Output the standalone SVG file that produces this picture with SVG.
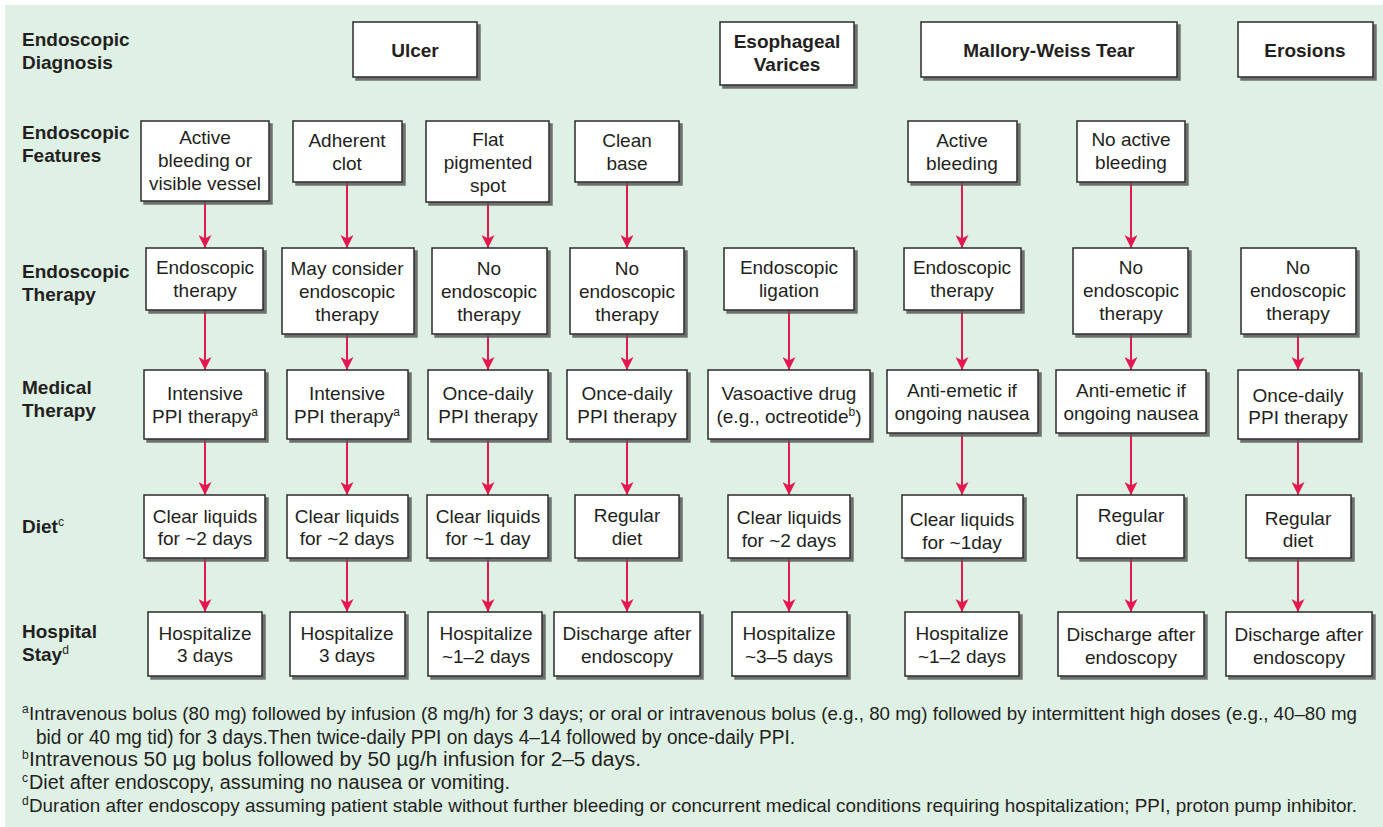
<svg xmlns="http://www.w3.org/2000/svg" width="1383" height="827" viewBox="0 0 1383 827">
  <style>
    .bg { fill: #dff0e5; }
    .box { fill: #ffffff; stroke: #2b2b2b; stroke-width: 1.5; filter: url(#shadow); }
    .t { font-family: "Liberation Sans", Arial, Helvetica, sans-serif; font-size: 19px; fill: #231f20; text-anchor: middle; }
    .tb { font-family: "Liberation Sans", Arial, Helvetica, sans-serif; font-size: 19px; font-weight: bold; fill: #231f20; text-anchor: middle; }
    .lbl { font-family: "Liberation Sans", Arial, Helvetica, sans-serif; font-size: 19px; font-weight: bold; fill: #231f20; }
    .sup { font-size: 12px; font-weight: normal; }
    .fn { font-family: "Liberation Sans", Arial, Helvetica, sans-serif; font-size: 20px; fill: #231f20; }
    .fn.long { font-size: 18.5px; }
    .fs { font-family: "Liberation Sans", Arial, Helvetica, sans-serif; font-size: 12px; fill: #231f20; }
    .arr { stroke: #e5174f; stroke-width: 2; fill: none; marker-end: url(#head); }
  </style>
  <defs>
    <filter id="shadow" x="-10%" y="-10%" width="130%" height="130%">
      <feDropShadow dx="3" dy="3" stdDeviation="0.7" flood-color="#5a5a5a" flood-opacity="0.85"/>
    </filter>
    <marker id="head" markerUnits="userSpaceOnUse" markerWidth="14" markerHeight="13" refX="13" refY="6.5" orient="auto">
      <path d="M0,0 L13,6.5 L0,13 L3.5,6.5 z" fill="#e5174f"/>
    </marker>
  </defs>

  <rect class="bg" x="5" y="5" width="1378" height="822"/>

  <!-- row labels -->
  <g id="row-labels">
    <text class="lbl" x="22" y="46">Endoscopic</text>
    <text class="lbl" x="22" y="69">Diagnosis</text>
    <text class="lbl" x="22" y="139">Endoscopic</text>
    <text class="lbl" x="22" y="162">Features</text>
    <text class="lbl" x="22" y="278">Endoscopic</text>
    <text class="lbl" x="22" y="301">Therapy</text>
    <text class="lbl" x="22" y="394">Medical</text>
    <text class="lbl" x="22" y="417">Therapy</text>
    <text class="lbl" x="22" y="533">Diet<tspan class="sup" dy="-7">c</tspan></text>
    <text class="lbl" x="22" y="638">Hospital</text>
    <text class="lbl" x="22" y="661">Stay<tspan class="sup" dy="-7">d</tspan></text>
  </g>

  <!-- connectors -->
  <g id="connectors">
    <line class="arr" x1="205" y1="201" x2="205" y2="248"/>
    <line class="arr" x1="205" y1="310" x2="205" y2="370"/>
    <line class="arr" x1="205" y1="439" x2="205" y2="495"/>
    <line class="arr" x1="205" y1="558" x2="205" y2="612"/>

    <line class="arr" x1="347" y1="182" x2="347" y2="248"/>
    <line class="arr" x1="347" y1="334" x2="347" y2="370"/>
    <line class="arr" x1="347" y1="439" x2="347" y2="495"/>
    <line class="arr" x1="347" y1="558" x2="347" y2="612"/>

    <line class="arr" x1="488" y1="202" x2="488" y2="248"/>
    <line class="arr" x1="488" y1="334" x2="488" y2="370"/>
    <line class="arr" x1="488" y1="439" x2="488" y2="495"/>
    <line class="arr" x1="488" y1="558" x2="488" y2="612"/>

    <line class="arr" x1="627" y1="182" x2="627" y2="248"/>
    <line class="arr" x1="627" y1="334" x2="627" y2="370"/>
    <line class="arr" x1="627" y1="439" x2="627" y2="495"/>
    <line class="arr" x1="627" y1="558" x2="627" y2="612"/>

    <line class="arr" x1="789" y1="310" x2="789" y2="370"/>
    <line class="arr" x1="789" y1="439" x2="789" y2="495"/>
    <line class="arr" x1="789" y1="558" x2="789" y2="612"/>

    <line class="arr" x1="962" y1="182" x2="962" y2="248"/>
    <line class="arr" x1="962" y1="310" x2="962" y2="370"/>
    <line class="arr" x1="962" y1="433" x2="962" y2="495"/>
    <line class="arr" x1="962" y1="558" x2="962" y2="612"/>

    <line class="arr" x1="1131" y1="182" x2="1131" y2="248"/>
    <line class="arr" x1="1131" y1="334" x2="1131" y2="370"/>
    <line class="arr" x1="1131" y1="433" x2="1131" y2="495"/>
    <line class="arr" x1="1131" y1="558" x2="1131" y2="612"/>

    <line class="arr" x1="1298" y1="334" x2="1298" y2="370"/>
    <line class="arr" x1="1298" y1="439" x2="1298" y2="495"/>
    <line class="arr" x1="1298" y1="558" x2="1298" y2="612"/>
  </g>

  <!-- diagnosis row -->
  <g id="dx-ulcer"><rect class="box" x="353" y="22" width="124" height="55"/><text class="tb" x="415" y="57">Ulcer</text></g>
  <g id="dx-varices"><rect class="box" x="720" y="22" width="134" height="63"/><text class="tb" x="787" y="48">Esophageal</text><text class="tb" x="787" y="71">Varices</text></g>
  <g id="dx-mallory"><rect class="box" x="921" y="22" width="256" height="55"/><text class="tb" x="1049" y="57">Mallory-Weiss Tear</text></g>
  <g id="dx-erosions"><rect class="box" x="1238" y="22" width="135" height="55"/><text class="tb" x="1305" y="57">Erosions</text></g>

  <!-- features row -->
  <g id="f1"><rect class="box" x="141" y="121" width="128" height="80"/><text class="t" x="205" y="144">Active</text><text class="t" x="205" y="167">bleeding or</text><text class="t" x="205" y="190">visible vessel</text></g>
  <g id="f2"><rect class="box" x="293" y="121" width="109" height="61"/><text class="t" x="347" y="147">Adherent</text><text class="t" x="347" y="170">clot</text></g>
  <g id="f3"><rect class="box" x="426" y="121" width="123" height="81"/><text class="t" x="488" y="146">Flat</text><text class="t" x="488" y="169">pigmented</text><text class="t" x="488" y="192">spot</text></g>
  <g id="f4"><rect class="box" x="575" y="121" width="104" height="61"/><text class="t" x="627" y="147">Clean</text><text class="t" x="627" y="170">base</text></g>
  <g id="f6"><rect class="box" x="908" y="121" width="109" height="61"/><text class="t" x="962" y="147">Active</text><text class="t" x="962" y="170">bleeding</text></g>
  <g id="f7"><rect class="box" x="1077" y="121" width="108" height="61"/><text class="t" x="1131" y="146">No active</text><text class="t" x="1131" y="169">bleeding</text></g>

  <!-- endoscopic therapy row -->
  <g id="e1"><rect class="box" x="146" y="248" width="117" height="62"/><text class="t" x="205" y="274">Endoscopic</text><text class="t" x="205" y="297">therapy</text></g>
  <g id="e2"><rect class="box" x="282" y="248" width="132" height="86"/><text class="t" x="347" y="275">May consider</text><text class="t" x="347" y="298">endoscopic</text><text class="t" x="347" y="321">therapy</text></g>
  <g id="e3"><rect class="box" x="432" y="248" width="115" height="86"/><text class="t" x="489" y="275">No</text><text class="t" x="489" y="298">endoscopic</text><text class="t" x="489" y="321">therapy</text></g>
  <g id="e4"><rect class="box" x="570" y="248" width="114" height="86"/><text class="t" x="627" y="275">No</text><text class="t" x="627" y="298">endoscopic</text><text class="t" x="627" y="321">therapy</text></g>
  <g id="e5"><rect class="box" x="724" y="248" width="130" height="62"/><text class="t" x="789" y="274">Endoscopic</text><text class="t" x="789" y="297">ligation</text></g>
  <g id="e6"><rect class="box" x="904" y="248" width="117" height="62"/><text class="t" x="962" y="274">Endoscopic</text><text class="t" x="962" y="297">therapy</text></g>
  <g id="e7"><rect class="box" x="1073" y="248" width="115" height="86"/><text class="t" x="1131" y="274">No</text><text class="t" x="1131" y="297">endoscopic</text><text class="t" x="1131" y="320">therapy</text></g>
  <g id="e8"><rect class="box" x="1241" y="248" width="115" height="86"/><text class="t" x="1298" y="274">No</text><text class="t" x="1298" y="297">endoscopic</text><text class="t" x="1298" y="320">therapy</text></g>

  <!-- medical therapy row -->
  <g id="m1"><rect class="box" x="144" y="370" width="121" height="69"/><text class="t" x="205" y="400">Intensive</text><text class="t" x="205" y="423">PPI therapy<tspan class="sup" dy="-7">a</tspan></text></g>
  <g id="m2"><rect class="box" x="287" y="370" width="121" height="69"/><text class="t" x="347" y="400">Intensive</text><text class="t" x="347" y="423">PPI therapy<tspan class="sup" dy="-7">a</tspan></text></g>
  <g id="m3"><rect class="box" x="428" y="370" width="120" height="69"/><text class="t" x="488" y="400">Once-daily</text><text class="t" x="488" y="423">PPI therapy</text></g>
  <g id="m4"><rect class="box" x="567" y="370" width="120" height="69"/><text class="t" x="627" y="400">Once-daily</text><text class="t" x="627" y="423">PPI therapy</text></g>
  <g id="m5"><rect class="box" x="708" y="370" width="162" height="69"/><text class="t" x="789" y="400">Vasoactive drug</text><text class="t" x="789" y="423">(e.g., octreotide<tspan class="sup" dy="-7">b</tspan><tspan dy="7">)</tspan></text></g>
  <g id="m6"><rect class="box" x="887" y="370" width="151" height="63"/><text class="t" x="962" y="397">Anti-emetic if</text><text class="t" x="962" y="420">ongoing nausea</text></g>
  <g id="m7"><rect class="box" x="1056" y="370" width="150" height="63"/><text class="t" x="1131" y="397">Anti-emetic if</text><text class="t" x="1131" y="420">ongoing nausea</text></g>
  <g id="m8"><rect class="box" x="1238" y="370" width="121" height="69"/><text class="t" x="1298" y="402">Once-daily</text><text class="t" x="1298" y="424">PPI therapy</text></g>

  <!-- diet row -->
  <g id="d1"><rect class="box" x="144" y="495" width="121" height="63"/><text class="t" x="205" y="523">Clear liquids</text><text class="t" x="205" y="545">for ~2 days</text></g>
  <g id="d2"><rect class="box" x="287" y="495" width="121" height="63"/><text class="t" x="347" y="523">Clear liquids</text><text class="t" x="347" y="545">for ~2 days</text></g>
  <g id="d3"><rect class="box" x="427" y="495" width="121" height="63"/><text class="t" x="488" y="523">Clear liquids</text><text class="t" x="488" y="545">for ~1 day</text></g>
  <g id="d4"><rect class="box" x="575" y="495" width="104" height="63"/><text class="t" x="627" y="522">Regular</text><text class="t" x="627" y="545">diet</text></g>
  <g id="d5"><rect class="box" x="728" y="495" width="122" height="63"/><text class="t" x="789" y="524">Clear liquids</text><text class="t" x="789" y="547">for ~2 days</text></g>
  <g id="d6"><rect class="box" x="902" y="495" width="121" height="63"/><text class="t" x="962" y="526">Clear liquids</text><text class="t" x="962" y="549">for ~1day</text></g>
  <g id="d7"><rect class="box" x="1077" y="495" width="107" height="63"/><text class="t" x="1131" y="522">Regular</text><text class="t" x="1131" y="545">diet</text></g>
  <g id="d8"><rect class="box" x="1246" y="495" width="105" height="63"/><text class="t" x="1298" y="525">Regular</text><text class="t" x="1298" y="547">diet</text></g>

  <!-- hospital stay row -->
  <g id="h1"><rect class="box" x="148" y="612" width="114" height="64"/><text class="t" x="205" y="640">Hospitalize</text><text class="t" x="205" y="662">3 days</text></g>
  <g id="h2"><rect class="box" x="290" y="612" width="115" height="64"/><text class="t" x="347" y="640">Hospitalize</text><text class="t" x="347" y="662">3 days</text></g>
  <g id="h3"><rect class="box" x="428" y="612" width="114" height="64"/><text class="t" x="486" y="640">Hospitalize</text><text class="t" x="486" y="663">~1–2 days</text></g>
  <g id="h4"><rect class="box" x="554" y="612" width="146" height="64"/><text class="t" x="627" y="640">Discharge after</text><text class="t" x="627" y="663">endoscopy</text></g>
  <g id="h5"><rect class="box" x="732" y="612" width="115" height="64"/><text class="t" x="789" y="640">Hospitalize</text><text class="t" x="789" y="663">~3–5 days</text></g>
  <g id="h6"><rect class="box" x="905" y="612" width="114" height="64"/><text class="t" x="962" y="640">Hospitalize</text><text class="t" x="962" y="663">~1–2 days</text></g>
  <g id="h7"><rect class="box" x="1058" y="612" width="146" height="64"/><text class="t" x="1131" y="641">Discharge after</text><text class="t" x="1131" y="664">endoscopy</text></g>
  <g id="h8"><rect class="box" x="1226" y="612" width="146" height="64"/><text class="t" x="1299" y="641">Discharge after</text><text class="t" x="1299" y="664">endoscopy</text></g>

  <!-- footnotes -->
  <g id="footnotes">
    <text class="fs" x="22" y="713">a</text>
    <text class="fn long" x="29" y="720" textLength="1328" lengthAdjust="spacingAndGlyphs">Intravenous bolus (80 mg) followed by infusion (8 mg/h) for 3 days; or oral or intravenous bolus (e.g., 80 mg) followed by intermittent high doses (e.g., 40–80 mg</text>
    <text class="fn" x="36" y="744" textLength="759" lengthAdjust="spacingAndGlyphs">bid or 40 mg tid) for 3 days.Then twice-daily PPI on days 4–14 followed by once-daily PPI.</text>
    <text class="fs" x="22" y="759">b</text>
    <text class="fn" x="29" y="766" textLength="612" lengthAdjust="spacingAndGlyphs">Intravenous 50 µg bolus followed by 50 µg/h infusion for 2–5 days.</text>
    <text class="fs" x="22" y="782">c</text>
    <text class="fn" x="29" y="789" textLength="481" lengthAdjust="spacingAndGlyphs">Diet after endoscopy, assuming no nausea or vomiting.</text>
    <text class="fs" x="22" y="805">d</text>
    <text class="fn long" x="29" y="812" textLength="1328" lengthAdjust="spacingAndGlyphs">Duration after endoscopy assuming patient stable without further bleeding or concurrent medical conditions requiring hospitalization; PPI, proton pump inhibitor.</text>
  </g>
</svg>
